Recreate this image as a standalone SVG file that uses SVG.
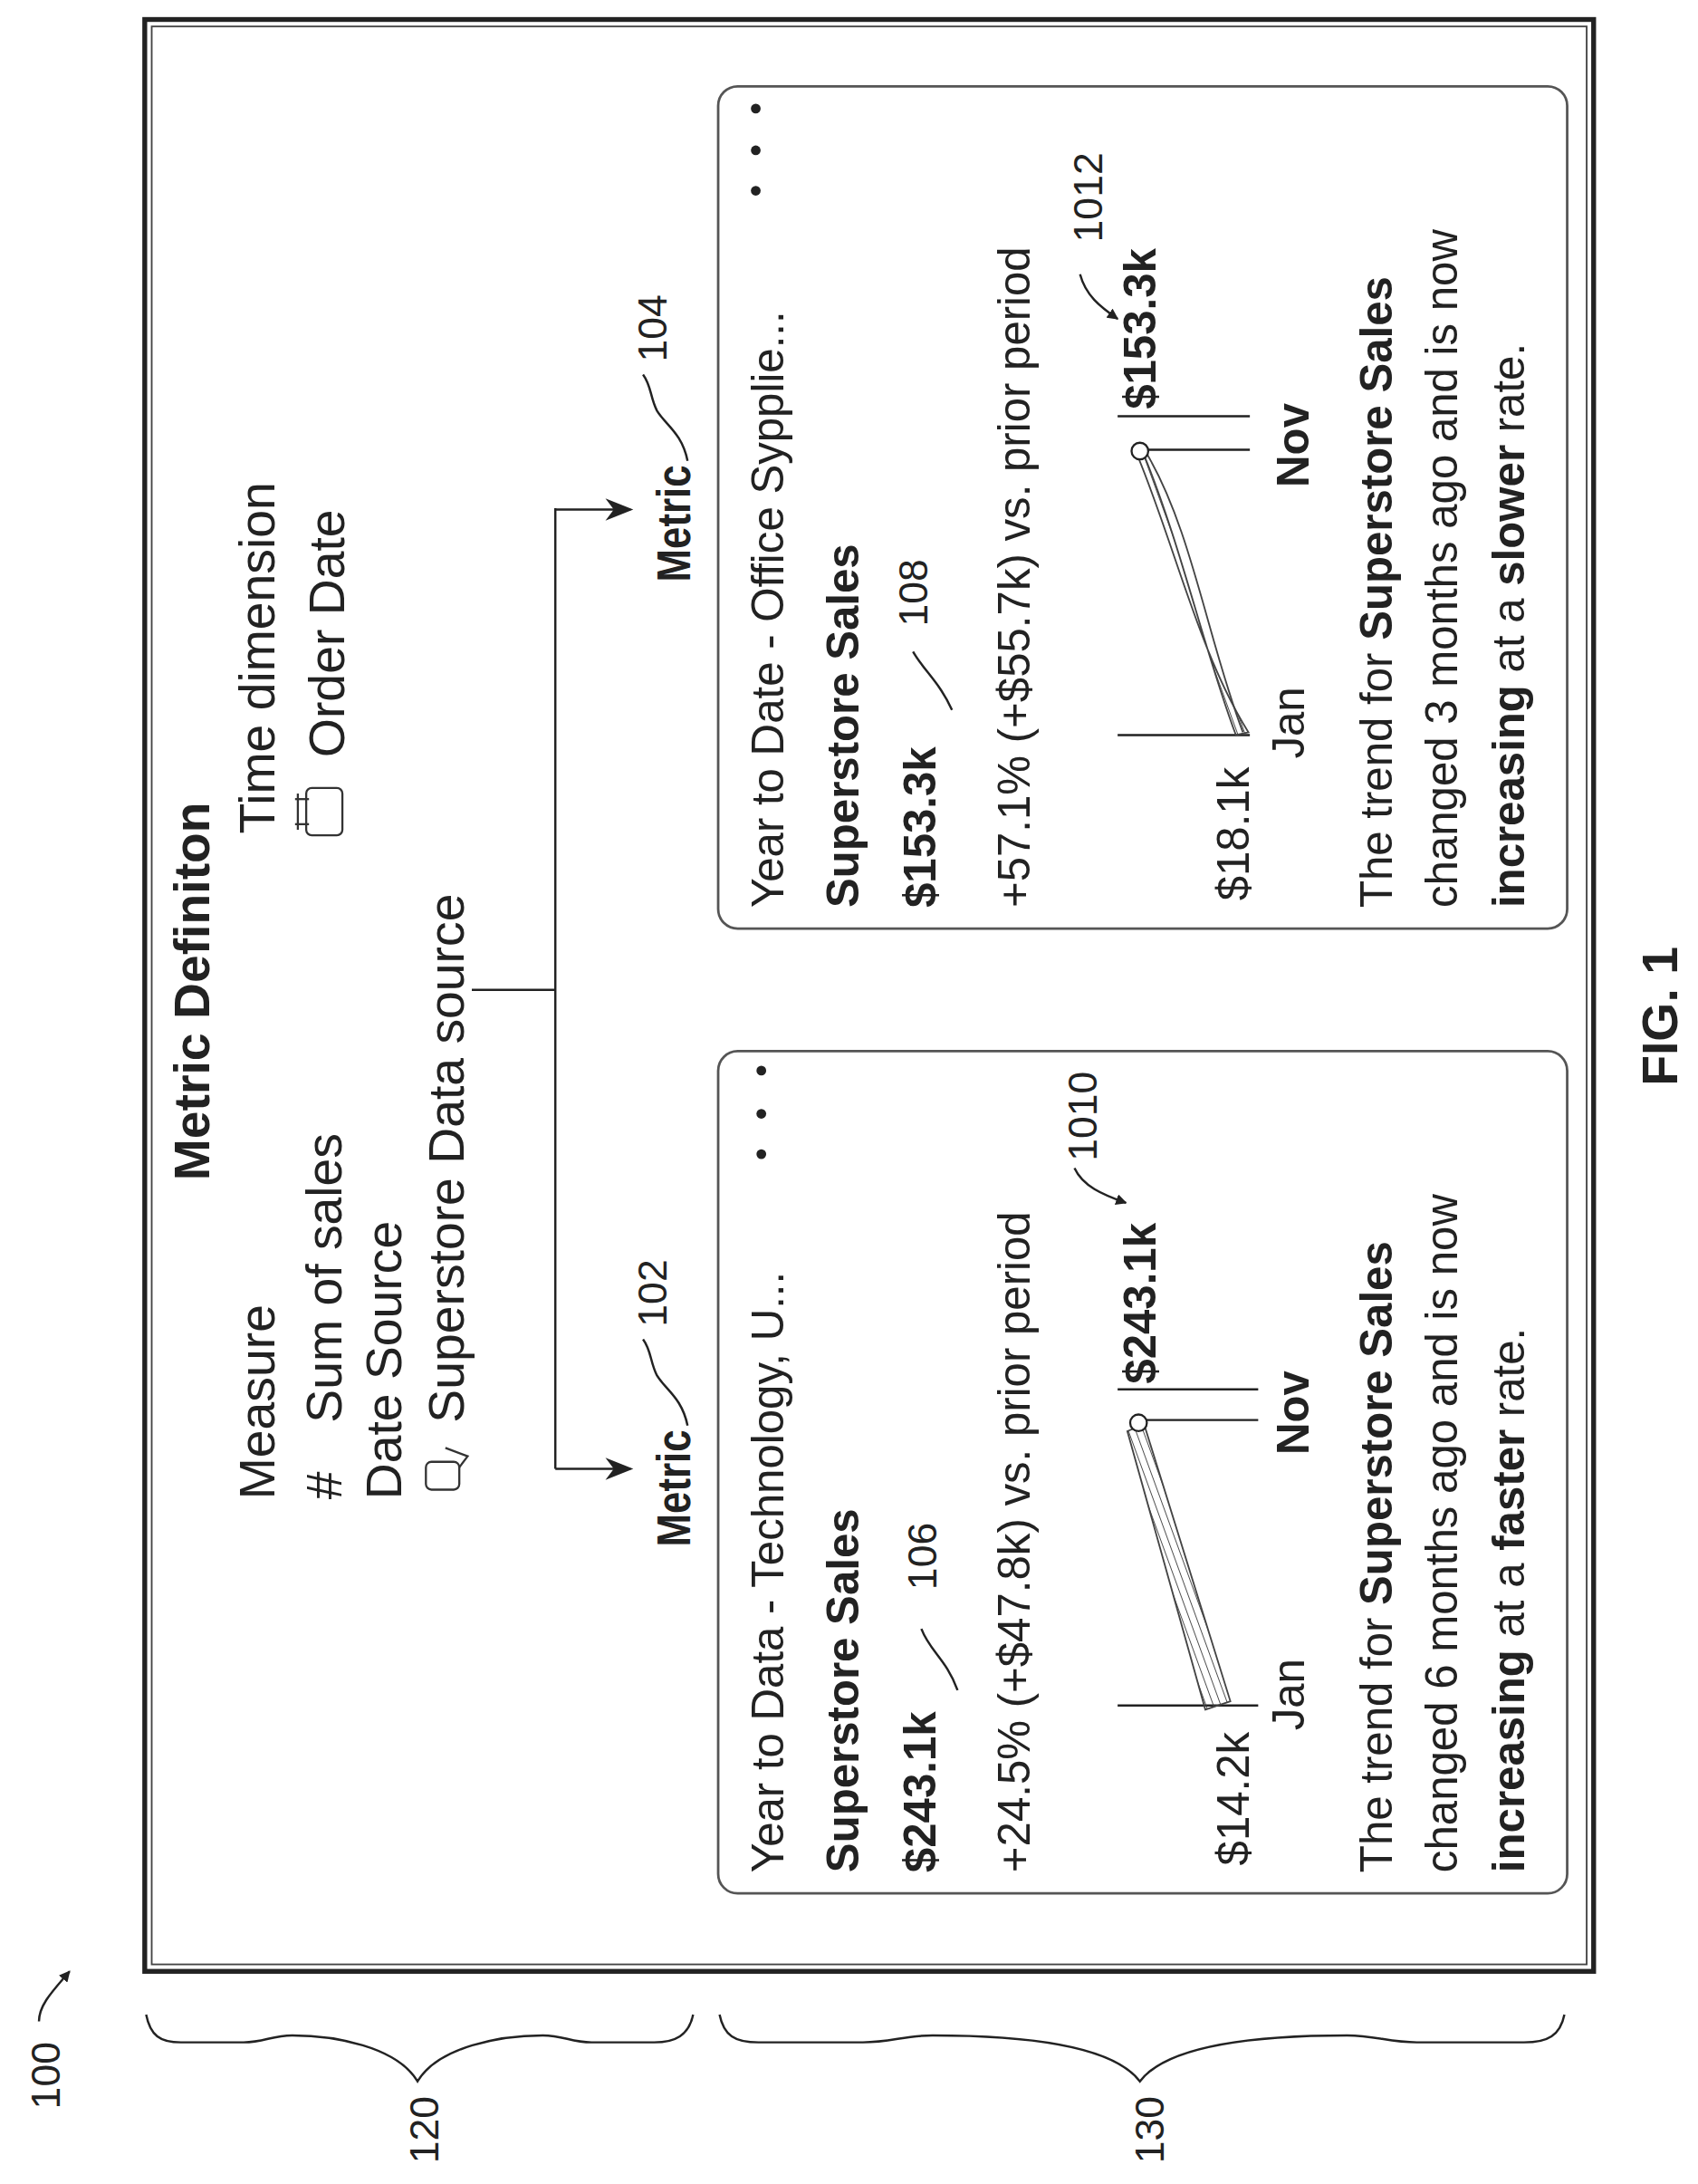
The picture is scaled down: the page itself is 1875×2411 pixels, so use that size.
<svg xmlns="http://www.w3.org/2000/svg" width="1875" height="2411" viewBox="0 0 1875 2411">
<style>
text{font-family:"Liberation Sans",Arial,sans-serif;fill:#222}
.L{font-size:36px}
.C{font-size:32px}
.n{font-size:29px}
.b{font-weight:bold}
.m{font-size:34px;font-weight:bold}
.ln{stroke:#222;stroke-width:1.6;fill:none}
.card{fill:none;stroke:#555;stroke-width:1.8}
</style>
<defs>
<marker id="ah" viewBox="0 0 10 10" refX="9" refY="5" markerWidth="8" markerHeight="8" orient="auto" markerUnits="userSpaceOnUse"><path d="M0,0L10,5L0,10z" fill="#222"/></marker>
<marker id="ah2" viewBox="0 0 10 10" refX="9" refY="5" markerWidth="24" markerHeight="20" orient="auto" markerUnits="userSpaceOnUse"><path d="M0,1L10,5L0,9L3,5z" fill="#222"/></marker>
<pattern id="hatch" width="5" height="5" patternUnits="userSpaceOnUse" patternTransform="rotate(-20)"><line x1="0" y1="0" x2="0" y2="5" stroke="#444" stroke-width="1.2"/></pattern>
</defs>
<rect width="1875" height="2411" fill="#fff"/>
<g transform="scale(1.5369)">
<g id="frame">
<rect x="104" y="14" width="1041" height="1402" fill="none" stroke="#222" stroke-width="3.5"/>
<rect x="109" y="19" width="1031" height="1392" fill="none" stroke="#444" stroke-width="1.2"/>
</g>
<g id="definition">
<text class="L b" transform="translate(150,848) rotate(-90)">Metric Definiton</text>
<text class="L" transform="translate(197,1077) rotate(-90)">Measure</text>
<text class="L" transform="translate(245,1077) rotate(-90)">#</text>
<text class="L" transform="translate(245,1022) rotate(-90)">Sum of sales</text>
<text class="L" transform="translate(288,1077) rotate(-90)">Date Source</text>
<g fill="none" stroke="#333" stroke-width="1.5">
<rect x="306" y="1050" width="24" height="20" rx="4"/>
<path d="M320,1040 L336,1046 L330,1054"/>
</g>
<text class="L" transform="translate(333,1022) rotate(-90)">Superstore Data source</text>
<text class="L" transform="translate(197,599) rotate(-90)">Time dimension</text>
<g fill="none" stroke="#333" stroke-width="1.5">
<rect x="220" y="566" width="26" height="34" rx="4"/>
<line x1="214" y1="570" x2="214" y2="596"/><line x1="212" y1="574" x2="222" y2="574"/><line x1="212" y1="592" x2="222" y2="592"/>
</g>
<text class="L" transform="translate(247,544) rotate(-90)">Order Date</text>
</g>
<g id="connectors">
<path class="ln" d="M339,711 H399 M399,365 V1055"/>
<path class="ln" d="M399,1055 H453" marker-end="url(#ah2)"/>
<path class="ln" d="M399,366 H453" marker-end="url(#ah2)"/>
</g>
<g id="metric102">
<text class="m" textLength="84" lengthAdjust="spacingAndGlyphs" transform="translate(496,1111) rotate(-90)">Metric</text>
<path class="ln" d="M494,1024 C490,1004 478,998 472,988 C467,978 468,970 462,962" stroke-width="1.2"/>
<text class="n" transform="translate(479,953) rotate(-90)">102</text>
</g>
<g id="metric104">
<text class="m" textLength="84" lengthAdjust="spacingAndGlyphs" transform="translate(496,418) rotate(-90)">Metric</text>
<path class="ln" d="M494,331 C490,311 478,305 472,295 C467,285 468,277 462,269" stroke-width="1.2"/>
<text class="n" transform="translate(479,260) rotate(-90)">104</text>
</g>
<g id="card1">
<rect class="card" x="516" y="755" width="610" height="605" rx="14"/>
<circle cx="547" cy="769" r="3.5" fill="#222"/><circle cx="547" cy="800" r="3.5" fill="#222"/><circle cx="547" cy="829" r="3.5" fill="#222"/>
<text class="C" transform="translate(563,1345) rotate(-90)">Year to Data - Technology, U...</text>
<text class="C b" transform="translate(617,1345) rotate(-90)">Superstore Sales</text>
<text class="C b" transform="translate(672,1345) rotate(-90)">$243.1k</text>
<path class="ln" d="M688,1214 C680,1192 668,1186 662,1170" stroke-width="1.2"/>
<text class="n" transform="translate(673,1142) rotate(-90)">106</text>
<text class="C" transform="translate(740,1345) rotate(-90)">+24.5% (+$47.8k) vs. prior period</text>
<text class="n" transform="translate(788,834) rotate(-90)">1010</text>
<path class="ln" d="M772,839 C778,852 792,858 809,864" stroke-width="1.3" marker-end="url(#ah)"/>
<text class="C" transform="translate(897,1340) rotate(-90)">$14.2k</text>
<path class="ln" d="M803,1225 H904 M818,1020 H904 M803,998 H904"/>
<polygon points="866,1228 884,1222 822,1023 810,1028" fill="url(#hatch)" stroke="#444" stroke-width="1.2"/>
<circle cx="818" cy="1022" r="6" fill="#fff" stroke="#222" stroke-width="1.5"/>
<text class="C b" transform="translate(830,994) rotate(-90)">$243.1k</text>
<text class="C" transform="translate(937,1243) rotate(-90)">Jan</text>
<text class="C b" transform="translate(940,1045) rotate(-90)">Nov</text>
<text class="C" transform="translate(1000,1345) rotate(-90)">The trend for <tspan class="b">Superstore Sales</tspan></text>
<text class="C" transform="translate(1047,1345) rotate(-90)">changed 6 months ago and is now</text>
<text class="C" transform="translate(1095,1345) rotate(-90)"><tspan class="b">increasing</tspan> at a <tspan class="b">faster</tspan> rate.</text>
</g>
<g id="card2">
<rect class="card" x="516" y="62" width="610" height="605" rx="14"/>
<circle cx="543" cy="78" r="3.5" fill="#222"/><circle cx="543" cy="108" r="3.5" fill="#222"/><circle cx="543" cy="137" r="3.5" fill="#222"/>
<text class="C" transform="translate(563,652) rotate(-90)">Year to Date - Office Sypplie...</text>
<text class="C b" transform="translate(617,652) rotate(-90)">Superstore Sales</text>
<text class="C b" transform="translate(672,652) rotate(-90)">$153.3k</text>
<path class="ln" d="M684,510 C675,490 664,482 656,468" stroke-width="1.2"/>
<text class="n" transform="translate(666,450) rotate(-90)">108</text>
<text class="C" transform="translate(740,652) rotate(-90)">+57.1% (+$55.7k) vs. prior period</text>
<text class="n" transform="translate(792,174) rotate(-90)">1012</text>
<path class="ln" d="M776,197 C780,212 790,220 803,229" stroke-width="1.3" marker-end="url(#ah)"/>
<text class="C" transform="translate(897,647) rotate(-90)">$18.1k</text>
<path class="ln" d="M803,528 H898 M819,323 H898 M803,299 H898"/>
<path d="M888,528 C866,470 848,390 822,327 L818,329 C845,395 862,470 897,526 Z" fill="url(#hatch)" stroke="#444" stroke-width="1.2"/>
<path d="M893,526 C868,460 856,380 824,326" fill="none" stroke="#444" stroke-width="1.2"/>
<circle cx="819" cy="324" r="6" fill="#fff" stroke="#222" stroke-width="1.5"/>
<text class="C b" transform="translate(830,294) rotate(-90)">$153.3k</text>
<text class="C" transform="translate(937,545) rotate(-90)">Jan</text>
<text class="C b" transform="translate(940,350) rotate(-90)">Nov</text>
<text class="C" transform="translate(1000,652) rotate(-90)">The trend for <tspan class="b">Superstore Sales</tspan></text>
<text class="C" transform="translate(1047,652) rotate(-90)">changed 3 months ago and is now</text>
<text class="C" transform="translate(1095,652) rotate(-90)"><tspan class="b">increasing</tspan> at a <tspan class="b">slower</tspan> rate.</text>
</g>
<g id="braces">
<path class="ln" d="M105,1447 C108,1462 115,1467 130,1467 L175,1467 C190,1467 195,1462 210,1462 C240,1462 285,1470 300,1495 C315,1470 360,1462 390,1462 C405,1462 410,1467 425,1467 L470,1467 C485,1467 495,1462 498,1447" stroke-width="1.3"/>
<text class="n" transform="translate(315,1554) rotate(-90)">120</text>
<path class="ln" d="M517,1447 C520,1462 528,1467 545,1467 L620,1467 C640,1467 650,1462 670,1462 C740,1462 800,1470 819,1495 C838,1470 898,1462 968,1462 C988,1462 998,1467 1018,1467 L1095,1467 C1112,1467 1121,1462 1124,1447" stroke-width="1.3"/>
<text class="n" transform="translate(836,1554) rotate(-90)">130</text>
<text class="n" transform="translate(43,1515) rotate(-90)">100</text>
<path class="ln" d="M28,1452 C28,1440 38,1430 50,1416" stroke-width="1.2" marker-end="url(#ah)"/>
</g>
<text class="L b" text-anchor="middle" transform="translate(1205,730) rotate(-90)">FIG. 1</text>
</g>
</svg>
